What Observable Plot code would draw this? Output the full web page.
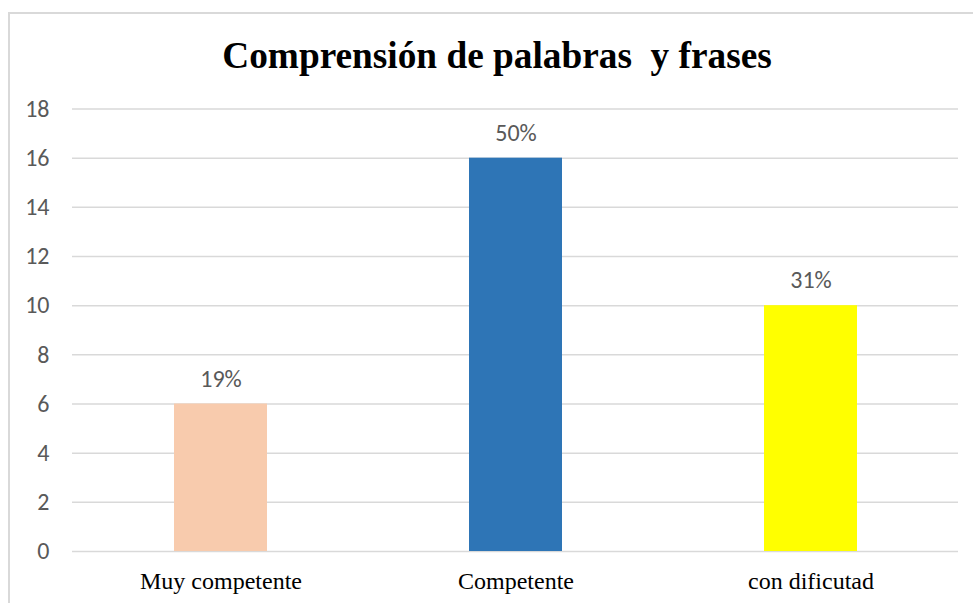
<!DOCTYPE html>
<html>
<head>
<meta charset="utf-8">
<script src="https://cdn.jsdelivr.net/npm/d3@7"></script>
<script src="https://cdn.jsdelivr.net/npm/@observablehq/plot@0.6"></script>
<style>
  html, body { margin: 0; padding: 0; background: #fff; }
  #wrap { position: relative; width: 973px; height: 603px; overflow: hidden; }
  #frame { position: absolute; left: 8px; top: 12px; width: 1000px; height: 700px;
           border-left: 2px solid #d9d9d9; border-top: 2px solid #d9d9d9; box-sizing: border-box; }
  #title { position: absolute; left: 21px; top: 0; width: 952px; height: 90px; text-align: center;
           font-family: "Liberation Serif", "Times New Roman", serif; font-weight: bold; font-size: 37.3px;
           line-height: 37px; padding-top: 37px; box-sizing: border-box; color: #000; white-space: pre; }
  #chart { position: absolute; left: 0; top: 90px; }
</style>
</head>
<body>
<div id="wrap">
  <div id="frame"></div>
  <div id="title">Comprensión de palabras  y frases</div>
  <div id="chart"></div>
</div>
<script>
const categories = ["Muy competente", "Competente", "con dificutad"];
const values = [6, 16, 10];
const percentLabels = ["19%", "50%", "31%"];
const barColors = ["#F8CBAD", "#2E75B6", "#FFFF00"];
const yTicks = [0, 2, 4, 6, 8, 10, 12, 14, 16, 18];

const data = categories.map((c, i) => ({cat: c, value: values[i], label: percentLabels[i], color: barColors[i]}));
const sansFont = "Carlito, Calibri, Lato, 'Open Sans', sans-serif";

const chart = Plot.plot({
  width: 973,
  height: 513,
  marginTop: 18.5,
  marginBottom: 52,
  marginLeft: 72,
  marginRight: 15,
  style: {background: "transparent", overflow: "visible"},
  x: {domain: categories, paddingInner: 0.685, paddingOuter: 0.3425, label: null},
  y: {domain: [0, 18], label: null},
  marks: [
    Plot.ruleY(yTicks, {stroke: "#d9d9d9", strokeWidth: 1.5}),
    Plot.barY(data, {x: "cat", y: "value", fill: "color"}),
    Plot.text(data, {x: "cat", y: "value", text: "label", dy: -25, fill: "#595959", fontSize: 24, fontFamily: sansFont}),
    Plot.axisY({ticks: yTicks, tickSize: 0, tickPadding: 23, fontSize: 24, fontFamily: sansFont, color: "#595959", label: null}),
    Plot.axisX({tickSize: 0, tickPadding: 20, fontSize: 24, fontFamily: "'Liberation Serif', 'Times New Roman', serif", color: "#000", label: null})
  ]
});
document.getElementById("chart").appendChild(chart);
</script>
</body>
</html>
